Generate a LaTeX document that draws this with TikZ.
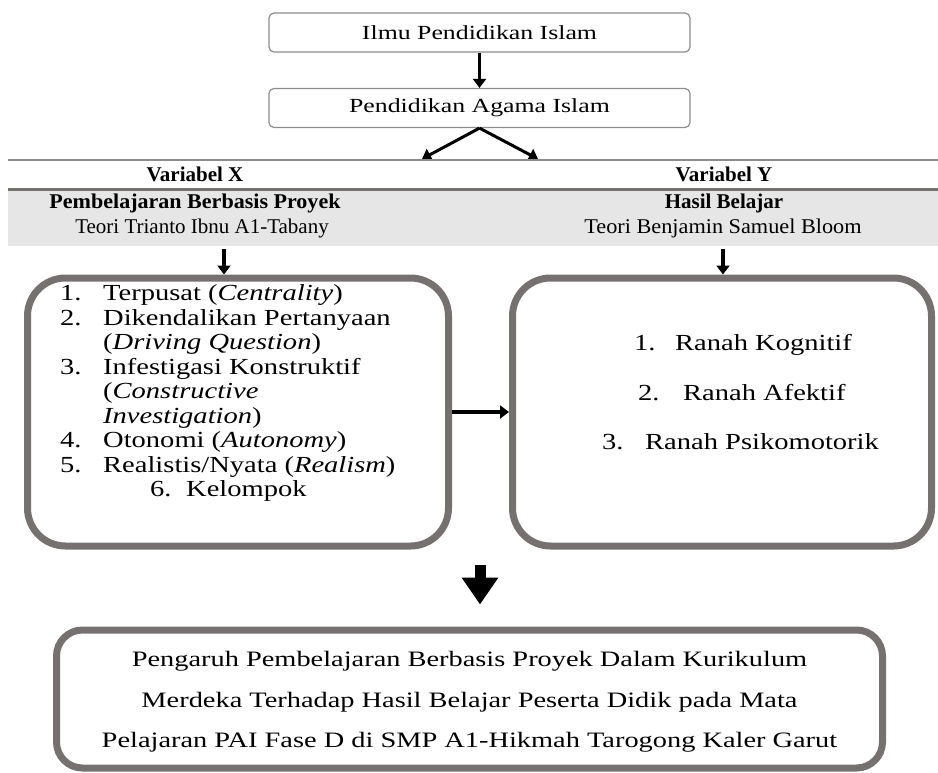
\documentclass[tikz,border=0pt]{standalone}
\usepackage{fontspec}
\setmainfont{Liberation Serif}
\usetikzlibrary{arrows.meta}
\definecolor{bord}{HTML}{757171}
\definecolor{thinbord}{HTML}{8C8C8C}
\definecolor{bandfill}{HTML}{E7E6E6}
\newcommand{\wx}[2]{\scalebox{#1}[1]{#2}}
\tikzset{
  smallbox/.style={draw=thinbord, line width=1.2pt, rounded corners=5pt, minimum width=421pt, minimum height=39pt, inner sep=0pt, font=\fontsize{20}{22}\selectfont},
  bigbox/.style={draw=bord, line width=7pt, rounded corners=38pt, inner sep=0pt},
  arr/.style={-{Triangle[length=9pt,width=13pt]}, line width=3.5pt},
  bigarr/.style={-{Triangle[length=27pt,width=35pt]}, line width=11pt},
  hdr/.style={font=\bfseries\fontsize{21}{24}\selectfont, inner sep=0pt},
  sub/.style={font=\fontsize{21}{24}\selectfont, inner sep=0pt},
  item/.style={anchor=base west, inner sep=0pt, font=\fontsize{23}{24}\selectfont},
  ritem/.style={anchor=base west, inner sep=0pt, font=\fontsize{23}{24}\selectfont},
  btext/.style={inner sep=0pt, font=\fontsize{22}{26}\selectfont}
}
\begin{document}
\begin{tikzpicture}[x=1pt,y=-1pt]
\useasboundingbox (0,0) rectangle (938,772);
% top boxes
\node[smallbox] (b1) at (479.5,32.5) {\wx{1.29}{Ilmu Pendidikan Islam}};
\node[smallbox] (b2) at (479.5,108) {\wx{1.29}{Pendidikan Agama Islam}};
\draw[arr] (b1.south) -- (b2.north);
\coordinate (lt) at (422,159);
\coordinate (rt) at (538,159);
\draw[arr, line width=3pt] (b2.south) -- (lt);
\draw[arr, line width=3pt] (b2.south) -- (rt);
% table lines and band
\draw[thinbord, line width=1.5pt] (8,160) -- (938,160);
\fill[bandfill] (8,189) rectangle (938,246);
\draw[bord, line width=3pt] (8,189) -- (938,189);
\node[hdr] (vx) at (195,174) {Variabel X};
\node[hdr] (vy) at (724,174) {Variabel Y};
\node[hdr] (px) at (195,203) {\wx{1.05}{Pembelajaran Berbasis Proyek}};
\node[sub] (tx) at (202,228) {Teori Trianto Ibnu A1-Tabany};
\node[hdr] (py) at (724,203) {Hasil Belajar};
\node[sub] (ty) at (723,228) {\wx{1.06}{Teori Benjamin Samuel Bloom}};
% big boxes
\node[bigbox, minimum width=421pt, minimum height=268pt] (lbox) at (238,412) {};
\node[bigbox, minimum width=419pt, minimum height=268pt] (rbox) at (722,412) {};
\coordinate (la) at (224,249);
\coordinate (ra) at (723,249);
\draw[arr] (la) -- (la |- lbox.north);
\draw[arr] (ra) -- (ra |- rbox.north);
\draw[arr, line width=4pt] (lbox.east) -- (rbox.west);
% left list
\node[item] (n1) at (60,300) {\wx{1.24}{1.}};
\node[item] (t1) at (103,300) {\wx{1.24}{Terpusat (\textit{Centrality})}};
\node[item] (n2) at (60,325) {\wx{1.24}{2.}};
\node[item] (t2) at (103,325) {\wx{1.24}{Dikendalikan Pertanyaan}};
\node[item] (t2b) at (103,349) {\wx{1.24}{(\textit{Driving Question})}};
\node[item] (n3) at (60,374) {\wx{1.24}{3.}};
\node[item] (t3) at (103,374) {\wx{1.24}{Infestigasi Konstruktif}};
\node[item] (t3b) at (103,398) {\wx{1.24}{(\textit{Constructive}}};
\node[item] (t3c) at (103,423) {\wx{1.24}{\textit{Investigation})}};
\node[item] (n4) at (60,447) {\wx{1.24}{4.}};
\node[item] (t4) at (103,447) {\wx{1.24}{Otonomi (\textit{Autonomy})}};
\node[item] (n5) at (60,472) {\wx{1.24}{5.}};
\node[item] (t5) at (103,472) {\wx{1.24}{Realistis/Nyata (\textit{Realism})}};
\node[item] (n6) at (150,496) {\wx{1.24}{6.}};
\node[item] (t6) at (186,496) {\wx{1.24}{Kelompok}};
% right list
\node[ritem] (r1n) at (634,350) {\wx{1.24}{1.}};
\node[ritem] (r1) at (675,350) {\wx{1.24}{Ranah Kognitif}};
\node[ritem] (r2n) at (638,400) {\wx{1.24}{2.}};
\node[ritem] (r2) at (683,400) {\wx{1.24}{Ranah Afektif}};
\node[ritem] (r3n) at (602,449) {\wx{1.24}{3.}};
\node[ritem] (r3) at (645,449) {\wx{1.24}{Ranah Psikomotorik}};
% down arrow and bottom box
\node[bigbox, rounded corners=26pt, minimum width=826pt, minimum height=138pt] (bot) at (469.5,699) {};
\node[btext] (bl1) at (469.5,661) {\wx{1.29}{Pengaruh Pembelajaran Berbasis Proyek Dalam Kurikulum}};
\node[btext] (bl2) at (469.5,702) {\wx{1.29}{Merdeka Terhadap Hasil Belajar Peserta Didik pada Mata}};
\node[btext] (bl3) at (469.5,742) {\wx{1.29}{Pelajaran PAI Fase D di SMP A1-Hikmah Tarogong Kaler Garut}};
\coordinate (dtop) at (480,565);
\draw[bigarr, shorten >=22pt] (dtop) -- (dtop |- bot.north);
\end{tikzpicture}
\end{document}
